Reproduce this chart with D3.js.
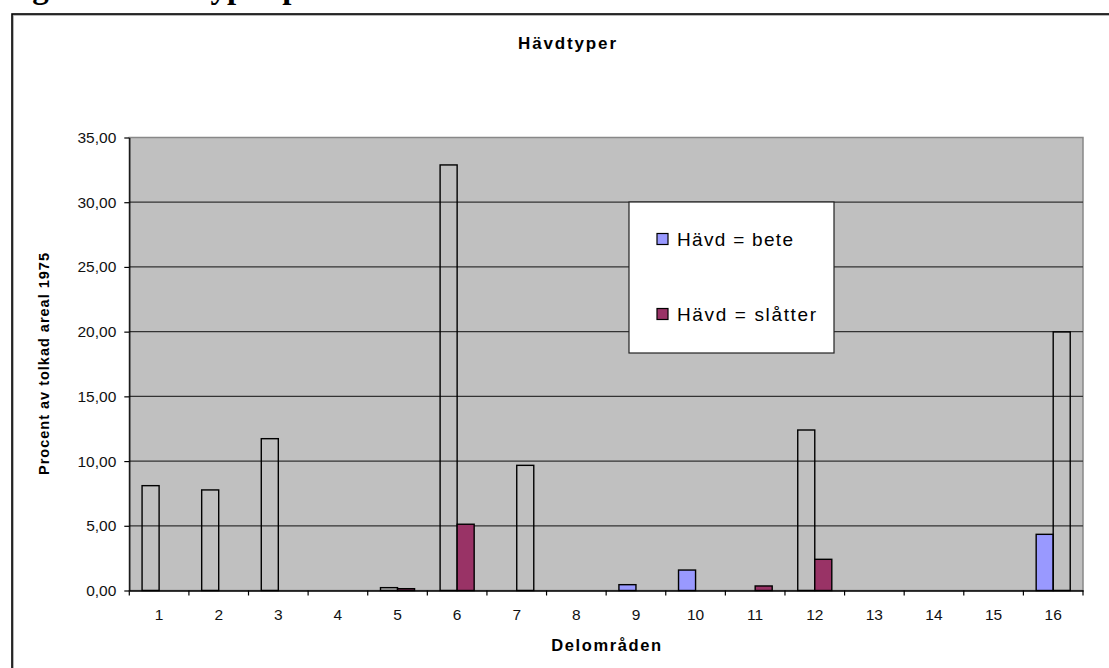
<!DOCTYPE html>
<html>
<head>
<meta charset="utf-8">
<script src="https://cdn.jsdelivr.net/npm/d3@7"></script>
<style>
  html, body { margin: 0; padding: 0; background: #fff; }
  svg { display: block; }
  text { font-family: "Liberation Sans", Arial, sans-serif; }
</style>
</head>
<body>
<svg id="chart" width="1109" height="668"></svg>
<script>
// ---------- data ----------
const categories = ["1","2","3","4","5","6","7","8","9","10","11","12","13","14","15","16"];
const seriesNames = ["Hävd = bete", "Hävd = slåtter"];
const beteValues    = [8.10, 7.77, 11.73, 0, 0.22, 32.88, 0, 0, 0.45, 1.58, 0, 12.40, 0, 0, 0, 4.34];
const slatterValues = [0, 0, 0, 0, 0.14, 5.12, 9.67, 0, 0, 0, 0.35, 2.41, 0, 0, 0, 19.98];
// points drawn without fill (outline only)
const beteNoFill    = [1, 1, 1, 0, 1, 1, 0, 0, 0, 0, 0, 1, 0, 0, 0, 0];
const slatterNoFill = [0, 0, 0, 0, 0, 0, 1, 0, 0, 0, 0, 0, 0, 0, 0, 1];
const yTicks = [0, 5, 10, 15, 20, 25, 30, 35];
const chartTitle = "Hävdtyper";
const xTitle = "Delområden";
const yTitle = "Procent av tolkad areal 1975";
const pageHeading = "Figur 7. Hävdtyper per delområde";

// ---------- layout ----------
const svg = d3.select("#chart");
const plot = { left: 129.3, right: 1083, top: 137.5, bottom: 590.5 };
const colors = ["#9999ff", "#993366"];

// page heading cut off at top (only descenders visible, as in the source)
svg.append("text")
  .attr("x", 3).attr("y", -2)
  .style("font-family", "'Liberation Serif', 'Times New Roman', serif")
  .style("font-weight", "bold").style("font-size", "33px")
  .text(pageHeading);

// chart area border
svg.append("rect")
  .attr("x", 13).attr("y", 15).attr("width", 1120).attr("height", 680)
  .attr("fill", "none").attr("stroke", "#a0a0a0").attr("stroke-width", 1.5);
svg.append("rect")
  .attr("x", 12).attr("y", 14).attr("width", 1120).attr("height", 680)
  .attr("fill", "none").attr("stroke", "#000").attr("stroke-width", 1.6);

// plot area
svg.append("rect")
  .attr("x", plot.left).attr("y", plot.top)
  .attr("width", plot.right - plot.left).attr("height", plot.bottom - plot.top)
  .attr("fill", "#c0c0c0").attr("stroke", "#888").attr("stroke-width", 1.5);

const x = d3.scaleBand().domain(categories).range([plot.left, plot.right]).padding(0);
const xs = d3.scaleBand().domain([0, 1]).range([0, x.bandwidth()]).paddingInner(0).paddingOuter(0.75);
const y = d3.scaleLinear().domain([0, 35]).range([plot.bottom, plot.top]);

// gridlines
svg.append("g").selectAll("line").data(yTicks.filter(t => t > 0 && t < 35)).join("line")
  .attr("x1", plot.left).attr("x2", plot.right)
  .attr("y1", d => y(d)).attr("y2", d => y(d))
  .attr("stroke", "#333").attr("stroke-width", 1.2);

// bars
const barData = [];
categories.forEach((c, i) => {
  [[beteValues, beteNoFill], [slatterValues, slatterNoFill]].forEach(([vals, nf], s) => {
    if (vals[i] > 0) barData.push({ c, s, v: vals[i], hollow: nf[i] === 1 });
  });
});
svg.append("g").selectAll("rect").data(barData).join("rect")
  .attr("x", d => x(d.c) + xs(d.s))
  .attr("width", xs.bandwidth())
  .attr("y", d => y(d.v))
  .attr("height", d => y(0) - y(d.v))
  .attr("fill", d => d.hollow ? "none" : colors[d.s])
  .attr("stroke", "#000").attr("stroke-width", 1.4);

// y axis
const yAxis = d3.axisLeft(y).tickValues(yTicks).tickSize(5).tickSizeOuter(0).tickPadding(8)
  .tickFormat(d => d3.format(".2f")(d).replace(".", ","));
const gy = svg.append("g").attr("transform", `translate(${plot.left},0)`).call(yAxis);
gy.selectAll("text").style("font-size", "15.5px").attr("fill", "#111");
gy.selectAll("line, path").attr("stroke", "#000").attr("stroke-width", 1.2);

// x axis
const xAxis = d3.axisBottom(x).tickSize(0).tickSizeOuter(0).tickPadding(18);
const gx = svg.append("g").attr("transform", `translate(0,${plot.bottom})`).call(xAxis);
gx.selectAll("text").style("font-size", "15.5px").attr("fill", "#111");
gx.select("path").attr("stroke", "#000").attr("stroke-width", 1.4);
// category boundary ticks
const bounds = categories.map(c => x(c)).concat([plot.right]);
svg.append("g").selectAll("line").data(bounds).join("line")
  .attr("x1", d => d).attr("x2", d => d)
  .attr("y1", plot.bottom).attr("y2", plot.bottom + 5)
  .attr("stroke", "#000").attr("stroke-width", 1.2);

// titles
svg.append("text")
  .attr("x", 567).attr("y", 49).attr("text-anchor", "middle")
  .style("font-weight", "bold").style("font-size", "17px")
  .attr("textLength", 98).attr("lengthAdjust", "spacing")
  .text(chartTitle);
svg.append("text")
  .attr("x", (plot.left + plot.right) / 2).attr("y", 651).attr("text-anchor", "middle")
  .style("font-weight", "bold").style("font-size", "16.5px")
  .attr("textLength", 110).attr("lengthAdjust", "spacing")
  .text(xTitle);
svg.append("text")
  .attr("transform", `translate(49,${(plot.top + plot.bottom) / 2}) rotate(-90)`)
  .attr("text-anchor", "middle")
  .style("font-weight", "bold").style("font-size", "14.5px")
  .attr("textLength", 222).attr("lengthAdjust", "spacing")
  .text(yTitle);

// legend
const lg = svg.append("g");
lg.append("rect")
  .attr("x", 629).attr("y", 202).attr("width", 205).attr("height", 151)
  .attr("fill", "#fff").attr("stroke", "#222").attr("stroke-width", 1.2);
const legendLen = [116, 139];
const legendY = [239, 314];
seriesNames.forEach((name, i) => {
  lg.append("rect")
    .attr("x", 657).attr("y", legendY[i] - 5.5).attr("width", 11).attr("height", 11)
    .attr("fill", colors[i]).attr("stroke", "#000").attr("stroke-width", 1.2);
  lg.append("text")
    .attr("x", 677).attr("y", legendY[i] + 6.5)
    .style("font-size", "19px")
    .attr("textLength", legendLen[i]).attr("lengthAdjust", "spacing")
    .text(name);
});
</script>
</body>
</html>
